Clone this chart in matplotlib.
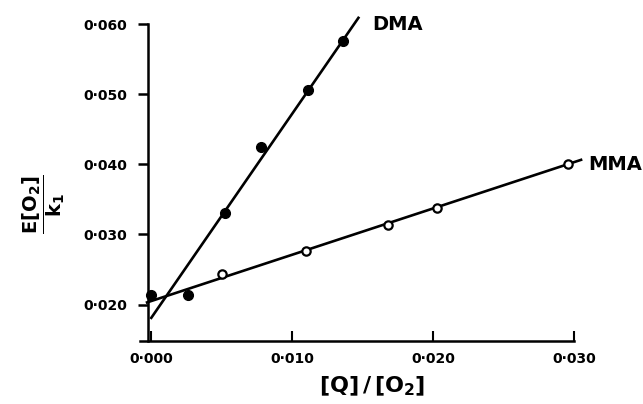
import matplotlib
matplotlib.use("Agg")
import matplotlib.pyplot as plt
import numpy as np

# data
dma_x = [0.0000, 0.0026, 0.0052, 0.0078, 0.0111, 0.0136]
dma_y = [0.0213, 0.0213, 0.0331, 0.0424, 0.0506, 0.0576]
mma_x = [0.0050, 0.0110, 0.0168, 0.0203, 0.0296]
mma_y = [0.0243, 0.0276, 0.0313, 0.0337, 0.0401]

# straight lines drawn through each set (slope, intercept, x range)
dma_fit = (2.91, 0.0181)
mma_fit = (0.660, 0.0205)
dma_line_x = np.array([0.0000, 0.0147])
mma_line_x = np.array([-0.0003, 0.0305])

xticks = [0.000, 0.010, 0.020, 0.030]
yticks = [0.020, 0.030, 0.040, 0.050, 0.060]
xticklabels = ["0\u00b7000", "0\u00b7010", "0\u00b7020", "0\u00b7030"]
yticklabels = ["0\u00b7020", "0\u00b7030", "0\u00b7040", "0\u00b7050", "0\u00b7060"]

plt.rcParams['mathtext.default'] = 'bf'
plt.rcParams['font.weight'] = 'bold'

fig = plt.figure(figsize=(6.43, 4.04), dpi=100)
ax = fig.add_axes([140/643, 63/404, 434/643, 317/404])

ax.plot(dma_line_x, dma_fit[0]*dma_line_x + dma_fit[1], color='black', lw=1.9, clip_on=False)
ax.plot(mma_line_x, mma_fit[0]*mma_line_x + mma_fit[1], color='black', lw=1.9, clip_on=False)
ax.plot(dma_x, dma_y, 'o', color='black', ms=7, clip_on=False, zorder=3)
ax.plot(mma_x, mma_y, 'o', mfc='white', mec='black', mew=1.6, ms=6, clip_on=False, zorder=3)

ax.text(0.0157, 0.0600, "DMA", fontsize=14, fontweight='bold', va='center', ha='left')
ax.text(0.0310, 0.0400, "MMA", fontsize=14, fontweight='bold', va='center', ha='left')

ax.set_xlim(-0.0008, 0.0300)
ax.set_ylim(0.0148, 0.0600)
ax.spines['top'].set_visible(False)
ax.spines['right'].set_visible(False)
ax.spines['left'].set_position(('data', -0.0002))
ax.spines['left'].set_linewidth(1.8)
ax.spines['bottom'].set_linewidth(1.8)

ax.set_xticks(xticks)
ax.set_xticklabels(xticklabels, fontsize=10, fontweight='bold')
ax.set_yticks(yticks)
ax.set_yticklabels(yticklabels, fontsize=10, fontweight='bold')
ax.tick_params(axis='x', direction='in', length=7, width=1.5, pad=8)
ax.tick_params(axis='y', direction='out', length=7, width=1.8, pad=8)

fig.text(372/643, 1 - 386/404, r'$[Q]\,/\,[O_2]$', fontsize=16, ha='center', va='center')
fig.text(44/643, 1 - 204/404, r'$\dfrac{E[O_2]}{k_1}$', fontsize=14, rotation=90,
         ha='center', va='center')

fig.savefig("out.png", dpi=100)
